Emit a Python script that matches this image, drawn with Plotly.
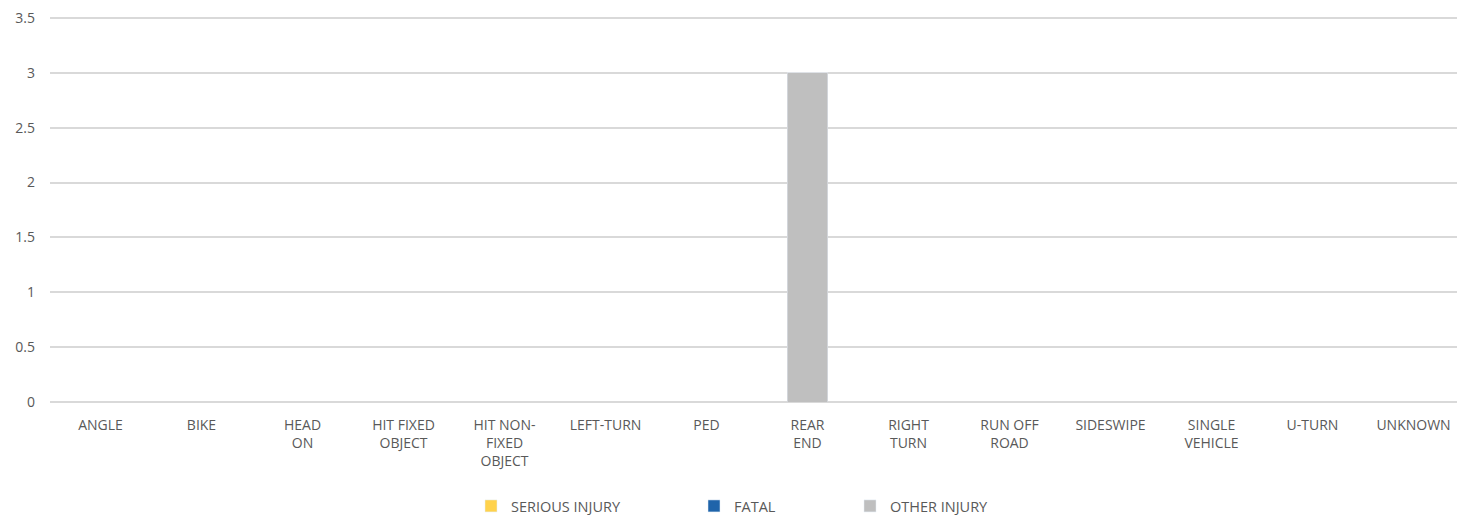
import plotly.graph_objects as go

categories = ["ANGLE", "BIKE", "HEAD<br>ON", "HIT FIXED<br>OBJECT", "HIT NON-<br>FIXED<br>OBJECT",
              "LEFT-TURN", "PED", "REAR<br>END", "RIGHT<br>TURN", "RUN OFF<br>ROAD",
              "SIDESWIPE", "SINGLE<br>VEHICLE", "U-TURN", "UNKNOWN"]
serious_injury = [0, 0, 0, 0, 0, 0, 0, 0, 0, 0, 0, 0, 0, 0]
fatal = [0, 0, 0, 0, 0, 0, 0, 0, 0, 0, 0, 0, 0, 0]
other_injury = [0, 0, 0, 0, 0, 0, 0, 3, 0, 0, 0, 0, 0, 0]

W, H = 1457, 515
FONT = "Open Sans"
FS = 14
TXT = "#595959"

fig = go.Figure()
fig.add_trace(go.Bar(x=categories, y=serious_injury, name="SERIOUS INJURY",
                     marker_color="#FFD24C", legend="legend"))
fig.add_trace(go.Bar(x=categories, y=fatal, name="FATAL",
                     marker_color="#1F64AA", legend="legend2"))
fig.add_trace(go.Bar(x=categories, y=other_injury, name="OTHER INJURY",
                     marker_color="#BFBFBF", legend="legend3"))

left, right_px = 50, 1457
top, bottom = 15, 402
unit = 101.0
span = (right_px - left) / unit
ppu = (402 - 18) / 3.5
ymax = (bottom - top) / ppu

def leg(px):
    return dict(x=px / W, xref="container", xanchor="left",
                y=1 - 506 / H, yref="container", yanchor="middle",
                orientation="h", bgcolor="rgba(0,0,0,0)",
                font=dict(family=FONT, size=14.5, color=TXT))

fig.update_layout(
    width=W, height=H,
    barmode="stack", bargap=0.6,
    paper_bgcolor="white", plot_bgcolor="white",
    margin=dict(l=left, r=W - right_px, t=top, b=H - bottom, autoexpand=False),
    font=dict(family=FONT, size=FS, color=TXT),
    showlegend=True,
    legend=leg(471), legend2=leg(694), legend3=leg(850),
    xaxis=dict(range=[-0.5, -0.5 + span], showgrid=False, ticks="",
               tickfont=dict(family=FONT, size=FS, color=TXT),
               ticklabelstandoff=13, showline=False, zeroline=False, tickangle=0),
    yaxis=dict(range=[0, ymax], tickvals=[0, 0.5, 1, 1.5, 2, 2.5, 3, 3.5],
               ticktext=["0", "0.5", "1", "1.5", "2", "2.5", "3", "3.5"],
               showgrid=True, gridcolor="#D9D9D9",
               gridwidth=1.5, zeroline=True, zerolinecolor="#D9D9D9", zerolinewidth=1.5,
               ticks="", tickfont=dict(family=FONT, size=FS, color=TXT),
               ticklabelstandoff=14, showline=False),
)

fig.write_html("out.html", config={"displayModeBar": False},
               post_script="document.body.style.margin='0';document.body.style.overflow='hidden';")
